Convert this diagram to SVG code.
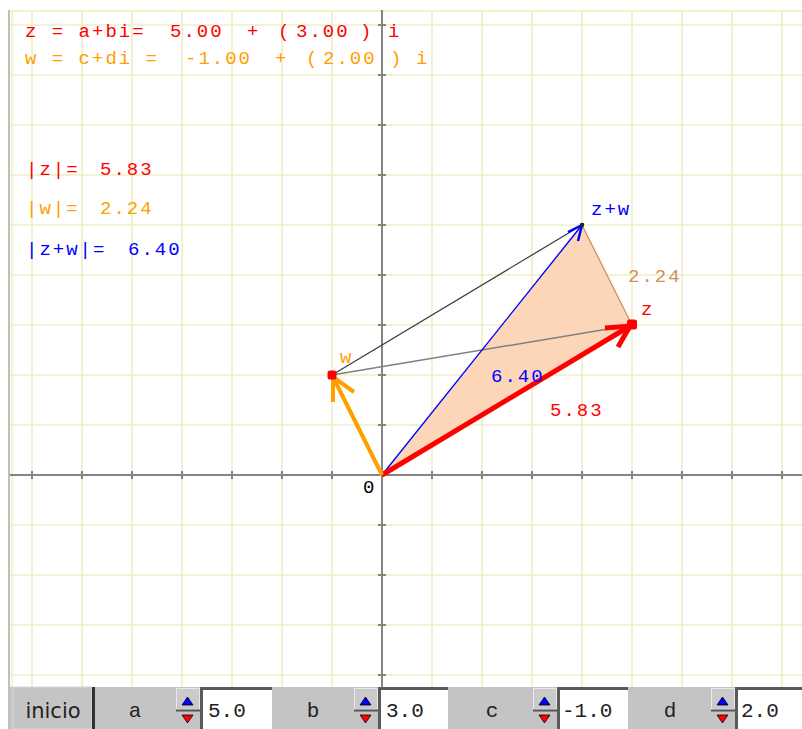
<svg xmlns="http://www.w3.org/2000/svg" xmlns:xlink="http://www.w3.org/1999/xlink" width="802" height="729" viewBox="0 0 802 729">
<style>
.grid{stroke:#eeeec6;stroke-width:1.6;fill:none}
.axis{stroke:#858585;stroke-width:2;fill:none}
.mono{font-family:"Liberation Mono","Courier New",monospace;font-size:19px;letter-spacing:2px}
.red{fill:#ff0000}
.org{fill:#ffa000}
.blu{fill:#0000ff}
.tan{fill:#d2915a}
.ctl{font-family:"Liberation Mono","Courier New",monospace;font-size:21px;fill:#222}
.barbg{fill:#c4c4c4}
.fld{fill:#ffffff}
.fldb{fill:none;stroke:#5a5a5a;stroke-width:3}
</style>
<defs>
<g id="spin">
<rect x="0" y="0" width="24" height="42" fill="#c4c4c4"/>
<rect x="0.5" y="1.5" width="23" height="21" fill="#cacaca" stroke="#e8e8e8" stroke-width="1"/>
<line x1="0" y1="23.5" x2="24" y2="23.5" stroke="#555" stroke-width="2"/>
<polygon points="11.5,10 6,18 17,18" fill="#0000ff" stroke="#000" stroke-width="0.8"/>
<polygon points="6,28 17,28 11.5,36" fill="#ff0000" stroke="#000" stroke-width="0.8"/>
</g>
</defs>
<rect x="0" y="0" width="802" height="729" fill="#ffffff"/>
<g id="grid">
<path class="grid" d="M32 10V687M82 10V687M132 10V687M182 10V687M232 10V687M282 10V687M332 10V687M432 10V687M482 10V687M532 10V687M582 10V687M632 10V687M682 10V687M732 10V687M782 10V687"/>
<path class="grid" d="M10 25H802M10 75H802M10 125H802M10 175H802M10 225H802M10 275H802M10 325H802M10 375H802M10 425H802M10 525H802M10 575H802M10 625H802M10 675H802"/>
<path d="M10 11H802M12 10V729" stroke="#f3f3c8" stroke-width="2" fill="none"/>
<line x1="9" y1="10" x2="9" y2="729" stroke="#a8a8a8" stroke-width="1.5"/>
</g>
<g id="axes">
<path class="axis" d="M10 475H802M382 10V687"/>
<path class="axis" stroke-width="1.5" d="M32 471V479M82 471V479M132 471V479M182 471V479M232 471V479M282 471V479M332 471V479M432 471V479M482 471V479M532 471V479M582 471V479M632 471V479M682 471V479M732 471V479M782 471V479M378 25H386M378 75H386M378 125H386M378 175H386M378 225H386M378 275H386M378 325H386M378 375H386M378 425H386M378 525H386M378 575H386M378 625H386M378 675H386"/>
</g>
<g id="triangle">
<polygon points="382,475 582,225 632,325" fill="#fdd5b9"/>
</g>
<g id="connectors">
<line x1="582" y1="225" x2="632" y2="325" stroke="#d2915a" stroke-width="1.3"/>
<line x1="332" y1="375" x2="582" y2="225" stroke="#3a3a3a" stroke-width="1.2"/>
<line x1="332" y1="375" x2="632" y2="325" stroke="#808080" stroke-width="1.4"/>
</g>
<g id="vec-zw">
<line x1="382" y1="475" x2="582" y2="225" stroke="#0000ff" stroke-width="1.4"/>
<path d="M568 232L582 225L578 241" fill="none" stroke="#0000ff" stroke-width="2.5" stroke-linejoin="miter"/>
<circle cx="582" cy="225" r="2.2" fill="#222"/>
</g>
<g id="vec-z">
<line x1="382" y1="475" x2="630" y2="326" stroke="#ff0000" stroke-width="5"/>
<path d="M605 328L630 326L618 347" fill="none" stroke="#ff0000" stroke-width="5" stroke-linejoin="miter"/>
<rect x="627" y="319.5" width="10" height="10" rx="2.5" fill="#ff0000"/>
</g>
<g id="vec-w">
<line x1="382" y1="475" x2="333" y2="377" stroke="#ffa000" stroke-width="4"/>
<path d="M333 402L333 377L354 392" fill="none" stroke="#ffa000" stroke-width="4" stroke-linejoin="miter"/>
<rect x="327.5" y="370.5" width="9" height="9" rx="2.5" fill="#ff0000"/>
</g>
<g id="labels" class="mono">
<text class="red" y="37"><tspan x="25">z = a+bi=</tspan><tspan x="170">5.00</tspan><tspan x="247">+</tspan><tspan x="278">(</tspan><tspan x="296">3.00</tspan><tspan x="360">)</tspan><tspan x="388">i</tspan></text>
<text class="org" y="64"><tspan x="25">w = c+di =</tspan><tspan x="185">-1.00</tspan><tspan x="275">+</tspan><tspan x="306">(</tspan><tspan x="323">2.00</tspan><tspan x="390">)</tspan><tspan x="416">i</tspan></text>
<text class="red" y="175"><tspan x="26">|z|=</tspan><tspan x="100">5.83</tspan></text>
<text class="org" y="214"><tspan x="26">|w|=</tspan><tspan x="100">2.24</tspan></text>
<text class="blu" y="255"><tspan x="26">|z+w|=</tspan><tspan x="128">6.40</tspan></text>
<text class="blu" x="591" y="215">z+w</text>
<text class="tan" x="628" y="282">2.24</text>
<text class="red" x="641" y="315">z</text>
<text class="org" x="340" y="363">w</text>
<text class="blu" x="491" y="382">6.40</text>
<text class="red" x="550" y="416">5.83</text>
<text fill="#000" x="363" y="493">0</text>
</g>
<g id="controls">
<rect class="barbg" x="10" y="687" width="792" height="42"/>
<g id="btn-inicio">
<rect x="13" y="687" width="79" height="42" fill="#c4c4c4" stroke="#d8d8d8" stroke-width="1"/>
<rect x="92" y="687" width="3" height="42" fill="#333"/>
<text x="53" y="718" text-anchor="middle" font-family="'DejaVu Sans','Liberation Sans',sans-serif" font-size="21" fill="#222">inicio</text>
</g>
<g id="ctl-a">
<rect x="96" y="687" width="79" height="42" fill="#c4c4c4"/>
<text class="ctl" x="135" y="717" text-anchor="middle">a</text>
<use xlink:href="#spin" x="176" y="687"/>
<rect class="fld" x="200" y="687" width="72" height="42"/>
<path class="fldb" d="M201.5 729V688.5H272"/>
<text class="ctl" x="208" y="717">5.0</text>
</g>
<g id="ctl-b">
<rect x="273" y="687" width="80" height="42" fill="#c4c4c4"/>
<text class="ctl" x="313" y="717" text-anchor="middle">b</text>
<use xlink:href="#spin" x="354" y="687"/>
<rect class="fld" x="378" y="687" width="70" height="42"/>
<path class="fldb" d="M379.5 729V688.5H448"/>
<text class="ctl" x="386" y="717">3.0</text>
</g>
<g id="ctl-c">
<rect x="452" y="687" width="80" height="42" fill="#c4c4c4"/>
<text class="ctl" x="492" y="717" text-anchor="middle">c</text>
<use xlink:href="#spin" x="533" y="687"/>
<rect class="fld" x="557" y="687" width="71" height="42"/>
<path class="fldb" d="M558.5 729V688.5H628"/>
<text class="ctl" x="562" y="717">-1.0</text>
</g>
<g id="ctl-d">
<rect x="630" y="687" width="80" height="42" fill="#c4c4c4"/>
<text class="ctl" x="670" y="717" text-anchor="middle">d</text>
<use xlink:href="#spin" x="711" y="687"/>
<rect class="fld" x="735" y="687" width="67" height="42"/>
<path class="fldb" d="M736.5 729V688.5H802"/>
<text class="ctl" x="741" y="717">2.0</text>
</g>
</g>
</svg>
